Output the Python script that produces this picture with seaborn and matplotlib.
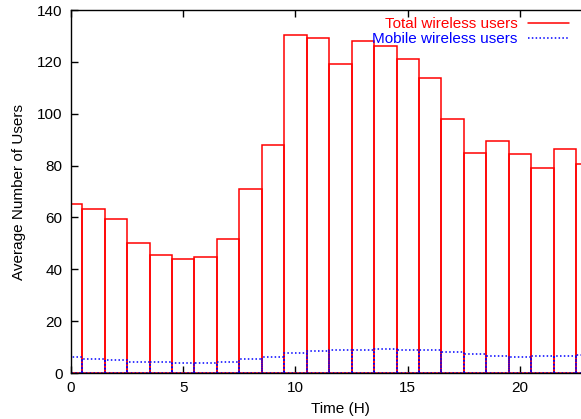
import matplotlib
matplotlib.use("Agg")
import matplotlib.pyplot as plt
import seaborn as sns
import pandas as pd
from matplotlib.lines import Line2D

hours = list(range(24))
total_users = [65.2, 63.2, 59.4, 50.1, 45.5, 44.0, 44.7, 51.8, 70.8, 88.0,
               130.3, 129.2, 119.0, 128.0, 126.2, 121.2, 113.7, 97.9, 84.8, 89.4,
               84.6, 79.2, 86.4, 80.7]
mobile_users = [6.0, 5.5, 5.0, 4.4, 4.1, 3.7, 3.9, 4.4, 5.3, 6.3,
                7.9, 8.3, 8.8, 9.0, 9.2, 9.0, 9.0, 8.1, 7.5, 6.6,
                6.3, 6.5, 6.7, 7.1]
x_ticks = [0, 5, 10, 15, 20]
y_ticks = [0, 20, 40, 60, 80, 100, 120, 140]
labels = ["Total wireless users", "Mobile wireless users"]

sns.set_theme(style="ticks")
plt.rcParams["font.family"] = ["Liberation Sans", "DejaVu Sans"]
FS = 11

df = pd.DataFrame({"hour": hours, "total": total_users, "mobile": mobile_users})

fig = plt.figure(figsize=(5.81, 4.19), dpi=100)
W, H = 581, 419
ax = fig.add_axes([71 / W, (H - 373) / H, 24 * 22.45 / W, (373 - 10) / H])

sns.barplot(data=df, x="hour", y="total", native_scale=True, width=1,
            fill=False, color="red", linewidth=1.1, errorbar=None, ax=ax)
sns.barplot(data=df, x="hour", y="mobile", native_scale=True, width=1,
            fill=False, color="blue", linewidth=1.1, linestyle=(0, (1, 1.5)),
            errorbar=None, ax=ax)

ax.set_xlim(0, 24)
ax.set_ylim(0, 140)
ax.set_xticks(x_ticks)
ax.set_xticklabels([str(t) for t in x_ticks], fontsize=FS)
ax.set_yticks(y_ticks)
ax.set_yticklabels([str(t) for t in y_ticks], fontsize=FS)
ax.tick_params(direction="in", length=5, width=1, color="black",
               top=True, right=True, pad=6, labelcolor="black")
for s in ax.spines.values():
    s.set_visible(True)
    s.set_color("black")
    s.set_linewidth(1)
ax.set_xlabel("Time (H)", fontsize=FS, color="black", labelpad=5)
ax.set_ylabel("Average Number of Users", fontsize=FS, color="black", labelpad=8)
ax.grid(False)

handles = [Line2D([], [], color="red", lw=1.1),
           Line2D([], [], color="blue", lw=1.1, linestyle=(0, (1, 1.5)))]
colors = ["red", "blue"]
tops = [24, 39]
legs = []
for h, lab, c, yc in zip(handles, labels, colors, tops):
    leg = ax.legend([h], [lab], loc="center right",
                    bbox_to_anchor=(569 / W, 1 - yc / H),
                    bbox_transform=fig.transFigure, frameon=False,
                    markerfirst=False, handlelength=2.7, handletextpad=0.65,
                    fontsize=FS, labelcolor=c, borderpad=0, borderaxespad=0)
    legs.append(leg)
ax.add_artist(legs[0])

fig.savefig("out.png", dpi=100)
